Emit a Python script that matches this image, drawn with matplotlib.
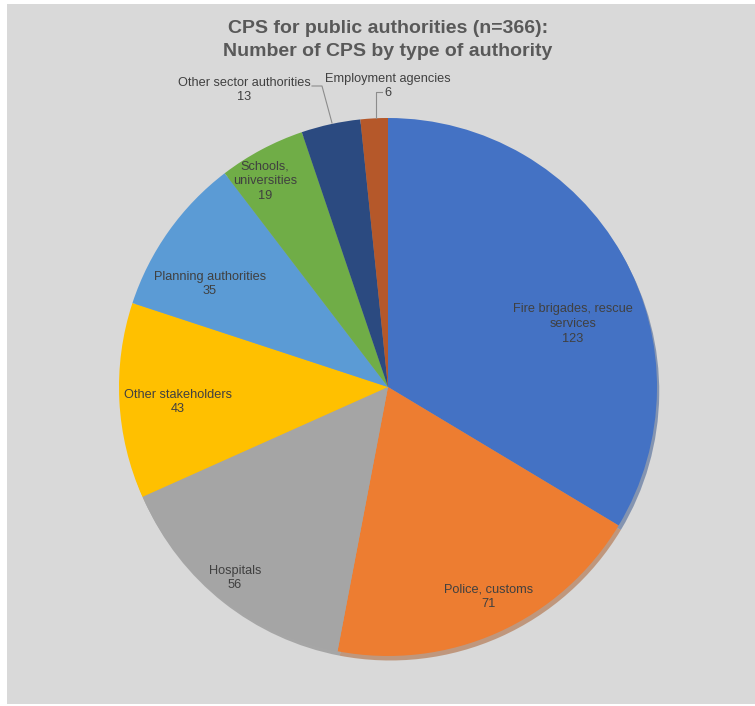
import numpy as np
import matplotlib.pyplot as plt
from matplotlib.patches import Rectangle

categories = ['Fire brigades, rescue\nservices', 'Police, customs', 'Hospitals', 'Other stakeholders',
              'Planning authorities', 'Schools,\nuniversities', 'Other sector authorities', 'Employment agencies']
counts = [123, 71, 56, 43, 35, 19, 13, 6]
colors = ['#4472c4', '#ed7d31', '#a5a5a5', '#ffc000', '#5b9bd5', '#70ad47', '#2b4a80', '#b5582a']

# label placement (data coords of the unit pie)
label_pos = [(0.688, 0.234), (0.375, -0.781), (-0.569, -0.710), (-0.781, -0.056),
             (-0.662, 0.383), (-0.457, 0.766), (-0.535, 1.104), (0.0, 1.119)]

fnt = ['Liberation Sans', 'DejaVu Sans']

fig = plt.figure(figsize=(7.55, 7.06), dpi=100, facecolor='white')
fig.patches.append(Rectangle((7/755, 2/706), 748/755, 700/706, transform=fig.transFigure,
                             facecolor='#d9d9d9', edgecolor='none', zorder=-10))

ax = fig.add_axes([119/755, 50/706, 538/755, 538/706])
ax.set_facecolor('none')
wedges, _ = ax.pie(counts, colors=colors, startangle=90, counterclock=False, radius=1,
                   wedgeprops=dict(linewidth=0),
                   shadow=dict(ox=0.006, oy=-0.012, shade=0.3))
ax.set_xlim(-1, 1)
ax.set_ylim(-1, 1)
ax.axis('off')

for i in range(len(counts)):
    x, y = label_pos[i]
    ax.text(x, y, categories[i] + '\n' + str(counts[i]), ha='center', va='center',
            fontsize=9.2, color='#404040', family=fnt, linespacing=1.3, clip_on=False)

# leader lines for the two small slices
ax.plot([(312-388)/269, (322-388)/269, (332-388)/269], [(387-86)/269, (387-86)/269, (387-123)/269],
        color='#8c8c8c', lw=0.8, clip_on=False)
ax.plot([(382-388)/269, (376-388)/269, (376-388)/269], [(387-92)/269, (387-92)/269, (387-118)/269],
        color='#8c8c8c', lw=0.8, clip_on=False)

fig.text(388/755, 1 - 40/706, 'CPS for public authorities (n=366):\nNumber of CPS by type of authority',
         ha='center', va='center', fontsize=14, fontweight='bold', color='#595959', family=fnt,
         linespacing=1.45)

plt.savefig('out.png', dpi=100, facecolor='white')
